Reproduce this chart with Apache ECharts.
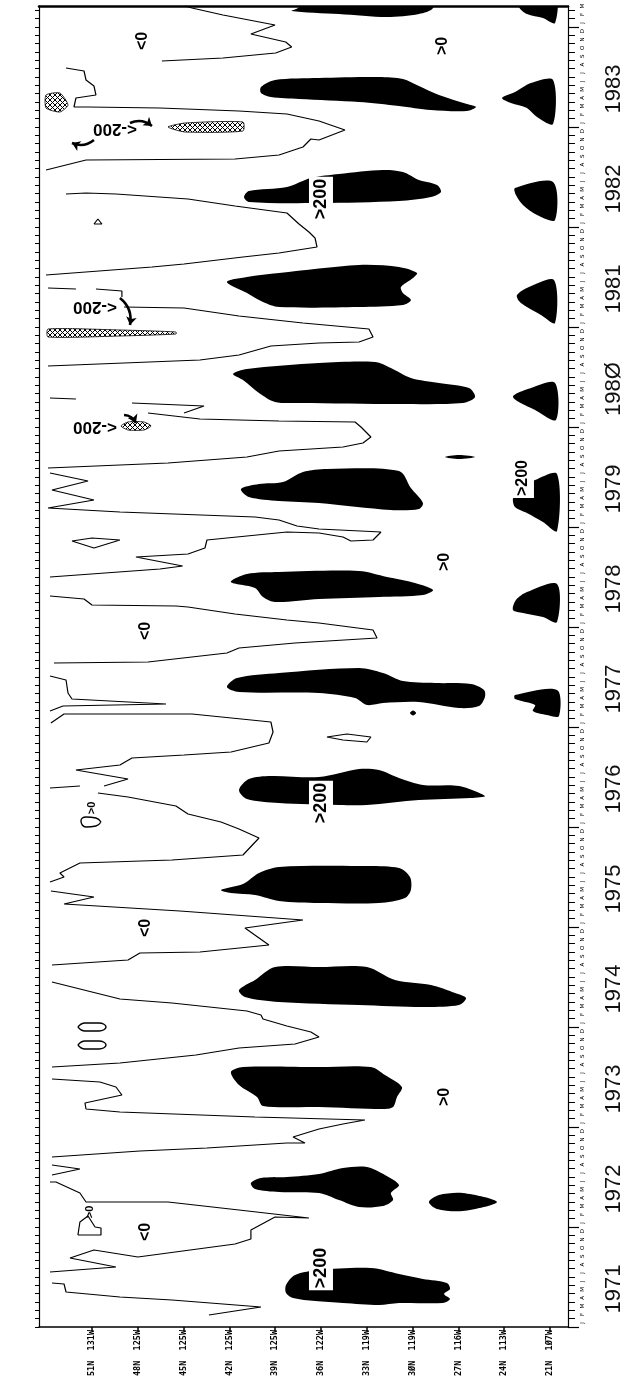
<!DOCTYPE html>
<html>
<head>
<meta charset="utf-8">
<script src="https://cdn.jsdelivr.net/npm/echarts@6/dist/echarts.min.js"></script>
<style>
html, body { margin: 0; padding: 0; background: #fff; }
#main { width: 625px; height: 1392px; }
</style>
</head>
<body>
<div id="main"></div>
<script>
// x = latitude (deg N, along the coast), y = decimal year
var latTicks = [51, 48, 45, 42, 39, 36, 33, 30, 27, 24, 21];
var latLabels = ['51N  131W', '48N  125W', '45N  125W', '42N  125W', '39N  125W', '36N  122W',
  '33N  119W', '3ØN  119W', '27N  116W', '24N  113W', '21N  1Ø7W'];
var years = [1971, 1972, 1973, 1974, 1975, 1976, 1977, 1978, 1979, 1980, 1981, 1982, 1983];
var yearText = ['1971', '1972', '1973', '1974', '1975', '1976', '1977', '1978', '1979', '198Ø', '1981', '1982', '1983'];
var monthLetters = ['J', 'F', 'M', 'A', 'M', 'J', 'J', 'A', 'S', 'O', 'N', 'D'];

// 0 contour, piece by piece
var seg1971a = [[53.62,1971.44],[52.83,1971.43],[52.70,1971.35],[49.17,1971.30],[45.76,1971.27],[42.42,1971.23],[39.93,1971.20],[43.34,1971.12]];
var seg1971b = [[53.75,1971.55],[49.43,1971.60],[52.44,1971.69],[50.87,1971.77],[47.99,1971.70],[41.63,1971.83],[40.59,1971.88],[40.59,1971.97],[39.01,1972.10],[36.79,1972.09],[41.37,1972.17],[46.02,1972.25],[51.39,1972.25],[51.79,1972.34],[53.36,1972.45],[53.75,1972.45]];
var seg1972v = [[53.62,1972.62],[51.79,1972.58],[53.62,1972.52]];
var seg1973 = [[53.62,1972.70],[47.86,1972.76],[43.47,1972.79],[38.23,1972.84],[37.05,1972.84],[37.83,1972.90],[36.13,1972.98],[34.56,1973.03],[33.12,1973.07],[40.32,1973.10],[49.17,1973.15],[51.39,1973.18],[51.46,1973.24],[49.04,1973.32],[49.43,1973.40],[50.48,1973.45],[53.62,1973.48]];
var seg1974 = [[53.62,1973.60],[49.17,1973.64],[44.19,1973.72],[41.37,1973.79],[37.70,1973.83],[36.13,1973.90],[36.66,1973.95],[38.23,1974.01],[39.80,1974.08],[39.93,1974.12],[40.85,1974.16],[45.76,1974.24],[49.17,1974.28],[53.62,1974.45]];
var seg1975 = [[53.62,1974.62],[48.64,1974.67],[47.86,1974.74],[43.93,1974.75],[39.41,1974.82],[40.98,1974.99],[37.18,1975.07],[45.24,1975.16],[52.83,1975.23],[50.87,1975.30],[53.69,1975.36]];
var seg1976a = [[53.75,1975.45],[52.83,1975.50],[53.10,1975.54],[51.79,1975.64],[45.76,1975.67],[41.11,1975.72],[40.06,1975.89],[41.37,1975.98],[42.55,1976.05],[44.71,1976.13],[45.50,1976.21],[48.64,1976.30],[50.61,1976.34]];
var seg1976b = [[53.75,1976.39],[51.79,1976.41]];
var seg1977a = [[50.21,1976.41],[48.64,1976.48],[52.05,1976.57],[49.17,1976.62],[48.38,1976.69],[44.97,1976.72],[41.89,1976.75],[39.41,1976.84],[39.14,1976.95],[39.28,1977.05],[44.45,1977.13],[52.83,1977.13],[53.69,1977.04]];
var seg1977b = [[53.75,1977.51],[52.70,1977.47],[52.57,1977.34],[52.31,1977.28],[46.15,1977.23],[52.90,1977.21],[53.75,1977.16]];
var seg1978 = [[53.49,1977.64],[47.33,1977.65],[42.16,1977.74],[41.37,1977.79],[37.70,1977.84],[32.33,1977.89],[32.59,1977.97],[36.13,1978.04],[38.23,1978.07],[41.63,1978.13],[44.71,1978.20],[45.50,1978.21],[51.00,1978.22],[51.52,1978.28],[53.75,1978.31]];
var seg1979 = [[53.75,1978.50],[46.55,1978.58],[45.06,1978.61],[48.12,1978.70],[44.71,1978.73],[43.60,1978.79],[43.47,1978.87],[40.85,1978.91],[38.23,1978.95],[36.13,1978.94],[34.56,1978.90],[34.04,1978.86],[32.59,1978.87],[32.07,1978.95],[36.13,1978.98],[37.57,1979.01],[38.75,1979.07],[40.32,1979.10],[49.17,1979.15],[53.88,1979.19],[50.87,1979.27],[53.62,1979.37],[51.26,1979.46],[53.75,1979.54]];
var seg1980a = [[53.88,1979.59],[46.02,1979.64],[40.85,1979.70],[38.75,1979.76],[34.56,1979.80],[33.25,1979.84],[32.73,1979.90],[33.38,1980.00],[33.77,1980.05],[38.75,1980.06],[43.93,1980.08],[47.33,1980.14]];
var seg1980b = [[44.97,1980.14],[43.66,1980.21],[48.38,1980.24]];
var seg1980c = [[53.75,1980.29],[52.05,1980.28]];
var seg1981a = [[53.88,1980.61],[43.93,1980.67],[41.37,1980.72],[39.28,1980.81],[36.13,1980.84],[33.51,1980.85],[32.59,1980.90],[32.86,1980.98],[37.18,1981.04],[41.37,1981.11],[44.97,1981.19],[48.90,1981.20]];
var seg1981b = [[49.04,1981.30],[49.04,1981.36],[50.74,1981.38]];
var seg1981c = [[52.05,1981.38],[53.88,1981.39]];
var seg1982 = [[54.01,1981.52],[47.07,1981.60],[44.97,1981.63],[41.11,1981.70],[38.75,1981.74],[36.26,1981.80],[36.39,1981.89],[36.79,1981.95],[37.44,1982.03],[38.23,1982.14],[41.63,1982.21],[44.71,1982.28],[49.43,1982.33],[51.39,1982.34],[52.70,1982.33]];
var seg1983 = [[54.01,1982.57],[51.39,1982.67],[41.63,1982.68],[38.75,1982.72],[37.18,1982.80],[36.66,1982.88],[36.13,1982.87],[34.43,1982.97],[36.13,1983.06],[38.23,1983.13],[41.37,1983.16],[46.55,1983.19],[51.26,1983.20],[52.18,1983.20],[52.05,1983.29],[50.74,1983.32],[50.87,1983.41],[51.39,1983.47],[51.52,1983.56],[52.70,1983.59]];
var seg1984 = [[46.42,1983.66],[42.42,1983.69],[38.97,1983.74],[37.92,1983.80],[38.31,1983.85],[40.59,1983.93],[39.01,1984.02],[42.42,1984.12],[44.45,1984.19],[44.90,1984.21]];

// small closed contours
var loop1972 = [[51.92,1971.92],[50.41,1971.92],[50.41,1971.99],[50.80,1972.00],[51.26,1972.11],[51.79,1972.05],[51.92,1971.92]];
var loop1974a = [[51.92,1974.00],[51.46,1974.04],[50.54,1974.04],[50.08,1974.00],[50.54,1973.96],[51.46,1973.96],[51.92,1974.00]];
var loop1974b = [[51.92,1973.82],[51.46,1973.86],[50.54,1973.86],[50.08,1973.82],[50.54,1973.78],[51.46,1973.78],[51.92,1973.82]];
var loop1976a = [[50.41,1976.05],[50.74,1976.09],[51.39,1976.10],[51.72,1976.06],[51.39,1976.00],[50.74,1976.01],[50.41,1976.05]];
var loop1976b = [[35.61,1976.90],[34.30,1976.93],[32.73,1976.90],[32.99,1976.85],[34.56,1976.87],[35.61,1976.90]];
var loop1978 = [[52.31,1978.86],[51.00,1978.89],[49.17,1978.87],[50.87,1978.79],[52.31,1978.86]];
var loop1982 = [[50.87,1982.03],[50.61,1982.08],[50.35,1982.03],[50.87,1982.03]];

// > 200 areas
var blob1971 = [[38.29,1971.42],[37.70,1971.52],[36.13,1971.57],[32.73,1971.59],[30.89,1971.53],[29.32,1971.48],[27.75,1971.44],[27.55,1971.38],[27.94,1971.33],[27.55,1971.28],[28.01,1971.24],[30.89,1971.24],[32.20,1971.22],[34.56,1971.24],[36.39,1971.26],[37.83,1971.29],[38.29,1971.34]];
var blob1972 = [[40.59,1972.44],[39.93,1972.49],[38.23,1972.50],[36.13,1972.53],[34.56,1972.59],[32.99,1972.60],[31.81,1972.52],[30.89,1972.42],[31.42,1972.34],[31.28,1972.27],[31.94,1972.21],[33.51,1972.20],[34.82,1972.27],[36.13,1972.34],[38.75,1972.35],[40.32,1972.38]];
var blob1972s = [[28.93,1972.25],[28.27,1972.32],[26.70,1972.34],[24.47,1972.25],[26.70,1972.16],[28.40,1972.18]];
var blob1973 = [[41.90,1973.55],[41.11,1973.60],[36.13,1973.60],[32.73,1973.60],[31.81,1973.52],[30.70,1973.40],[31.02,1973.30],[31.28,1973.20],[31.94,1973.18],[36.13,1973.20],[39.80,1973.21],[40.19,1973.30],[41.37,1973.42]];
var blob1974 = [[41.37,1974.37],[40.32,1974.47],[39.01,1974.60],[36.13,1974.60],[32.99,1974.60],[31.15,1974.47],[28.80,1974.42],[27.22,1974.34],[26.50,1974.29],[26.96,1974.22],[29.32,1974.20],[33.51,1974.22],[38.75,1974.25],[40.98,1974.30]];
var blob1975 = [[42.55,1975.37],[41.11,1975.43],[40.06,1975.54],[38.75,1975.60],[33.51,1975.61],[30.89,1975.59],[30.17,1975.50],[30.11,1975.37],[30.50,1975.29],[32.20,1975.24],[36.13,1975.24],[38.75,1975.26],[40.32,1975.32],[41.90,1975.34]];
var blob1976 = [[41.37,1976.37],[40.72,1976.48],[39.28,1976.51],[36.13,1976.50],[33.51,1976.58],[32.20,1976.57],[30.89,1976.49],[29.32,1976.42],[26.96,1976.41],[25.26,1976.31],[26.18,1976.29],[29.58,1976.27],[32.99,1976.22],[34.82,1976.22],[38.75,1976.24],[40.85,1976.28]];
var blob1977 = [[42.16,1977.40],[41.50,1977.49],[38.75,1977.54],[33.51,1977.59],[31.94,1977.54],[30.63,1977.46],[28.53,1977.44],[26.18,1977.43],[25.32,1977.37],[25.26,1977.30],[25.65,1977.21],[26.96,1977.19],[29.58,1977.25],[31.94,1977.24],[32.99,1977.22],[33.77,1977.29],[36.13,1977.34],[41.37,1977.35]];
var blob1978 = [[41.90,1978.45],[40.85,1978.53],[38.75,1978.55],[33.51,1978.56],[31.68,1978.50],[29.84,1978.44],[28.66,1978.37],[29.32,1978.32],[32.20,1978.30],[36.13,1978.28],[39.01,1978.25],[39.80,1978.30],[40.32,1978.39]];
var blob1979 = [[41.24,1979.38],[40.06,1979.43],[38.49,1979.45],[37.18,1979.55],[35.61,1979.58],[30.89,1979.56],[30.11,1979.39],[29.32,1979.24],[29.58,1979.18],[31.42,1979.17],[36.13,1979.24],[38.75,1979.26],[40.72,1979.30]];
var blob1980 = [[41.76,1980.53],[40.85,1980.58],[36.13,1980.64],[32.46,1980.65],[31.42,1980.59],[30.11,1980.49],[28.27,1980.44],[26.31,1980.39],[25.91,1980.30],[26.70,1980.24],[30.89,1980.23],[37.44,1980.24],[39.01,1980.25],[40.06,1980.34],[41.11,1980.47]];
var blob1981 = [[42.16,1981.45],[40.85,1981.50],[38.75,1981.54],[33.51,1981.62],[30.89,1981.60],[29.71,1981.54],[29.97,1981.49],[30.76,1981.40],[30.63,1981.34],[30.11,1981.27],[30.63,1981.22],[33.51,1981.20],[38.75,1981.20],[39.80,1981.25],[40.85,1981.34]];
var blob1982 = [[41.04,1982.30],[40.72,1982.36],[38.23,1982.40],[36.66,1982.49],[34.82,1982.53],[31.94,1982.57],[30.63,1982.55],[29.58,1982.47],[28.40,1982.42],[28.14,1982.35],[28.80,1982.30],[30.89,1982.26],[36.13,1982.24],[40.72,1982.25]];
var blob1983 = [[39.93,1983.40],[39.01,1983.47],[36.13,1983.49],[32.20,1983.50],[30.63,1983.48],[29.58,1983.41],[28.27,1983.32],[26.44,1983.23],[25.85,1983.20],[26.44,1983.16],[28.80,1983.17],[30.89,1983.21],[33.51,1983.25],[37.44,1983.28],[39.28,1983.30],[39.93,1983.34]];
var blob1984 = [[37.92,1984.16],[34.82,1984.13],[31.68,1984.10],[29.58,1984.13],[28.66,1984.19],[28.66,1984.35],[37.44,1984.35],[37.44,1984.20]];
var blobS1977 = [[23.29,1977.32],[20.54,1977.37],[20.41,1977.11],[21.20,1977.12],[22.12,1977.16],[21.98,1977.22],[23.29,1977.28]];
var blobS1978 = [[23.42,1978.17],[23.23,1978.27],[22.51,1978.35],[20.54,1978.43],[20.54,1978.05],[21.46,1978.10],[22.77,1978.14]];
var blobS1979 = [[23.42,1979.29],[23.03,1979.38],[21.98,1979.47],[20.54,1979.53],[20.54,1978.96],[21.46,1979.05],[22.51,1979.14],[23.29,1979.20]];
var blobS1980 = [[23.42,1980.30],[22.25,1980.39],[20.67,1980.44],[20.61,1980.07],[21.98,1980.17]];
var blobS1981 = [[23.16,1981.32],[22.38,1981.40],[20.74,1981.47],[20.67,1981.04],[21.59,1981.12],[22.51,1981.20],[23.03,1981.26]];
var blobS1982 = [[23.29,1982.39],[20.80,1982.45],[20.67,1982.07],[21.85,1982.12],[22.77,1982.22],[23.23,1982.32]];
var blobS1983 = [[24.14,1983.29],[23.29,1983.35],[22.25,1983.44],[20.80,1983.47],[20.80,1983.03],[21.85,1983.10],[22.51,1983.19],[23.56,1983.24]];
var blobS1984 = [[23.03,1984.20],[22.51,1984.13],[21.46,1984.09],[20.67,1984.04],[20.67,1984.35],[23.03,1984.35]];
var dot1977 = [[30.17,1977.14],[29.97,1977.165],[29.77,1977.14],[29.97,1977.115]];
var dash1979 = [[27.88,1979.70],[26.96,1979.72],[25.91,1979.70],[26.96,1979.68]];

// < -200 areas (hatched)
var hatch1980 = [[49.10,1980.01],[48.64,1980.05],[47.59,1980.05],[47.13,1980.01],[47.59,1979.97],[48.64,1979.97]];
var hatch1981 = [[53.88,1980.98],[49.17,1980.97],[45.50,1980.95],[45.50,1980.93],[49.17,1980.91],[53.88,1980.90]];
var hatch1983a = [[46.02,1983.00],[44.91,1983.04],[41.11,1983.05],[41.11,1982.96],[44.91,1982.95]];
var hatch1983b = [[54.01,1983.32],[53.10,1983.34],[52.57,1983.22],[53.10,1983.15],[54.01,1983.19]];

var arrows = [
  [[48.90,1980.12],[48.12,1980.04]],
  [[49.17,1981.29],[48.51,1981.02]],
  [[48.51,1983.04],[47.07,1983.01]],
  [[50.87,1982.87],[52.31,1982.84]]
];

// [lat, year, text, rotation, font size, white box]
var notes = [
  [47.69,1983.86,'<0',90,16,false],
  [47.46,1977.96,'<0',90,16,false],
  [47.46,1974.99,'<0',90,16,false],
  [47.46,1971.95,'<0',90,16,false],
  [28.01,1983.81,'>0',90,16,false],
  [27.88,1978.65,'>0',90,16,false],
  [27.88,1973.30,'>0',90,16,false],
  [51.13,1972.15,'>0',90,11,false],
  [51.00,1976.19,'>0',90,11,false],
  [36.00,1971.59,'>200',90,18,true],
  [36.00,1976.24,'>200',90,18,true],
  [36.00,1982.28,'>200',90,18,true],
  [22.77,1979.49,'>200',90,16,true],
  [50.80,1980.00,'<-200',180,17,false],
  [50.80,1981.20,'<-200',180,17,false],
  [49.49,1982.98,'<-200',180,17,false]
];

var contourSegs = [seg1971a, seg1971b, seg1972v, seg1973, seg1974, seg1975, seg1976a, seg1976b,
  seg1977a, seg1977b, seg1978, seg1979, seg1980a, seg1980b, seg1980c, seg1981a, seg1981b, seg1981c,
  seg1982, seg1983, seg1984, loop1972, loop1976b, loop1978, loop1982];
var ovals = [loop1974a, loop1974b, loop1976a];
var blobs = [blob1971, blob1972, blob1972s, blob1973, blob1974, blob1975, blob1976, blob1977, blob1978,
  blob1979, blob1980, blob1981, blob1982, blob1983, blob1984, blobS1977, blobS1978, blobS1979, blobS1980,
  blobS1981, blobS1982, blobS1983, blobS1984, dot1977, dash1979];
var hatches = [hatch1980, hatch1981, hatch1983a, hatch1983b];

var tMin = 1971, tMax = 1984.21;
var monthStarts = [], monthMids = [], yearStarts = [], yearMids = [];
for (var k = 0; k / 12 < tMax - tMin; k++) {
  monthStarts.push(tMin + k / 12);
  if ((k + 0.5) / 12 < tMax - tMin) monthMids.push(tMin + (k + 0.5) / 12);
}
for (var y = 1971; y <= 1984; y++) yearStarts.push(y);
years.forEach(function (y) { yearMids.push(y + 0.38); });

// cross hatch for the < -200 areas
var hatchCanvas = document.createElement('canvas');
hatchCanvas.width = 5; hatchCanvas.height = 5;
var hc = hatchCanvas.getContext('2d');
hc.strokeStyle = '#000'; hc.lineWidth = 1;
hc.beginPath(); hc.moveTo(0, 0); hc.lineTo(5, 5); hc.moveTo(5, 0); hc.lineTo(0, 5); hc.stroke();

function shapeSeries(list, style, smooth) {
  return {
    type: 'custom',
    coordinateSystem: 'cartesian2d',
    clip: true, silent: true, animation: false,
    data: list.map(function (s, i) { return [s[0][0], s[0][1], i]; }),
    encode: { x: 0, y: 1 },
    renderItem: function (params, api) {
      var pts = list[api.value(2)].map(function (p) { return api.coord(p); });
      return { type: 'polygon', shape: { points: pts, smooth: smooth }, style: style };
    }
  };
}

var series = [];
series.push(shapeSeries(blobs, { fill: '#000' }, 0.3));
series.push(shapeSeries(hatches, { fill: { image: hatchCanvas, repeat: 'repeat' }, stroke: '#000', lineWidth: 0.8 }, 0.2));
contourSegs.forEach(function (seg) {
  series.push({ type: 'line', data: seg, symbol: 'none', clip: true, silent: true, animation: false,
    lineStyle: { color: '#000', width: 1.2 } });
});
ovals.forEach(function (seg) {
  series.push({ type: 'line', data: seg, symbol: 'none', smooth: 0.5, silent: true, animation: false,
    lineStyle: { color: '#000', width: 1.4 } });
});
series.push({
  type: 'lines', coordinateSystem: 'cartesian2d', silent: true, animation: false,
  symbol: ['none', 'arrow'], symbolSize: 8,
  lineStyle: { color: '#000', width: 2.6, curveness: 0.3, opacity: 1 },
  data: arrows.map(function (a) { return { coords: a }; })
});
series.push({
  type: 'scatter', symbolSize: 1, silent: true, animation: false,
  itemStyle: { color: 'rgba(0,0,0,0)', opacity: 1 },
  data: notes.map(function (n) {
    return {
      value: [n[0], n[1]],
      label: {
        show: true, position: 'inside', formatter: n[2], rotate: n[3],
        fontSize: n[4], fontWeight: 'bold', fontFamily: 'Liberation Sans', color: '#000',
        backgroundColor: n[5] ? '#fff' : 'transparent', padding: n[5] ? [3, 2] : 0
      }
    };
  })
});

var chart = echarts.init(document.getElementById('main'), null, { renderer: 'canvas' });
chart.setOption({
  backgroundColor: '#fff',
  animation: false,
  grid: { left: 39, right: 57, top: 6, bottom: 65 },
  xAxis: [{
    type: 'value', position: 'bottom', min: 19.82, max: 54.47, inverse: true,
    axisLine: { show: true, onZero: false, lineStyle: { color: '#000', width: 1.5 } },
    axisTick: { show: true, customValues: latTicks, length: 4, lineStyle: { color: '#000', width: 1.5 } },
    axisLabel: {
      show: true, customValues: latTicks, rotate: 90, margin: 3,
      fontSize: 8.5, fontWeight: 'bold', fontFamily: 'DejaVu Sans Mono', color: '#000',
      formatter: function (v) { return latLabels[latTicks.indexOf(Math.round(v))]; }
    },
    splitLine: { show: false }
  }, {
    type: 'value', position: 'top', min: 19.82, max: 54.47, inverse: true,
    axisLine: { show: true, onZero: false, lineStyle: { color: '#000', width: 2.5 } },
    axisTick: { show: false }, axisLabel: { show: false }, splitLine: { show: false }
  }],
  yAxis: [{
    type: 'value', position: 'left', min: tMin, max: tMax,
    axisLine: { show: true, onZero: false, lineStyle: { color: '#000', width: 1.2 } },
    axisTick: { show: true, customValues: monthStarts, length: 4, lineStyle: { color: '#000' } },
    axisLabel: { show: false }, splitLine: { show: false }
  }, {
    type: 'value', position: 'right', min: tMin, max: tMax,
    axisLine: { show: true, onZero: false, lineStyle: { color: '#000', width: 1.2 } },
    axisTick: { show: true, customValues: monthStarts, length: 7, lineStyle: { color: '#000' } },
    axisLabel: {
      show: true, customValues: monthMids, rotate: 90, margin: 12,
      fontSize: 5.5, fontFamily: 'DejaVu Sans', color: '#000',
      formatter: function (v) { return monthLetters[Math.floor((v - tMin) * 12 + 1e-6) % 12]; }
    },
    splitLine: { show: false }
  }, {
    type: 'value', position: 'right', min: tMin, max: tMax,
    axisLine: { show: false },
    axisTick: { show: true, customValues: yearStarts, length: 11, lineStyle: { color: '#000', width: 1.2 } },
    axisLabel: {
      show: true, customValues: yearMids, rotate: 90, margin: 35,
      fontSize: 22, fontFamily: 'Liberation Sans', color: '#111',
      formatter: function (v) { return yearText[years.indexOf(Math.floor(v))]; }
    },
    splitLine: { show: false }
  }],
  series: series
});
</script>
</body>
</html>
